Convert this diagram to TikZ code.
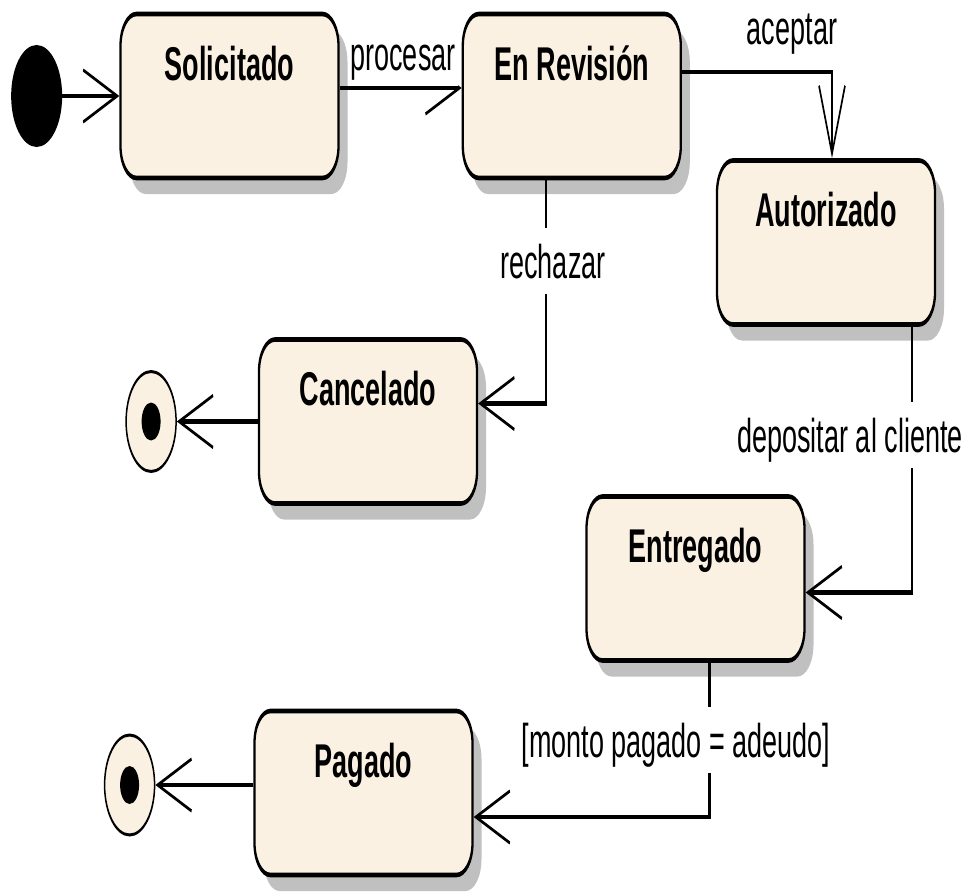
\documentclass[tikz,border=0pt]{standalone}
\usepackage{fontspec}
\setmainfont{Liberation Sans}[FakeStretch=1.14]
\usetikzlibrary{positioning, arrows.meta, shadows}
\definecolor{statefill}{RGB}{251,241,226}
\definecolor{shadowgray}{RGB}{192,192,192}

\begin{document}
\begin{tikzpicture}[x=1pt, y=-0.5pt,
    statebox/.style={draw, line width=2.3pt, fill=statefill, rounded corners=16pt,
      minimum width=218pt, text height=17pt, text depth=33pt, inner ysep=16pt,
      font=\fontsize{23.7}{28}\selectfont\bfseries,
      drop shadow={shadow xshift=9pt, shadow yshift=-8pt, fill=shadowgray, opacity=1}},
    initstate/.style={circle, fill=black, minimum size=51pt, inner sep=0pt},
    finalstate/.style={circle, draw, line width=1.5pt, fill=statefill, minimum size=50pt, inner sep=0pt,
      path picture={\fill[black] (path picture bounding box.center) circle[radius=9.5pt];}},
    transline/.style={line width=2.3pt, -{Straight Barb[length=34pt, width=26pt, line width=1.6pt]}},
    trlabel/.style={fill=white, font=\fontsize{23.7}{28}\selectfont, inner xsep=2pt, inner ysep=8pt,
      text depth=0pt, anchor=base}]
  \useasboundingbox (0pt,0pt) rectangle (971pt,-891pt);
  \begin{scope}[transform canvas={yscale=2}]
    \node[statebox] (sol) at (229.5,96) {Solicitado};
    \node[statebox, right=122pt of sol] (rev) {En Revisión};
    \node[statebox] (aut) at (826,242.5) {Autorizado};
    \node[statebox] (can) at (368,421.5) {Cancelado};
    \node[statebox] (ent) at (695.5,578.5) {Entregado};
    \node[statebox] (pag) at (363.5,793) {Pagado};
    \node[initstate, left=57pt of sol] (init) {};
    \node[finalstate, left=81pt of can] (fin1) {};
    \node[finalstate, left=98pt of pag, yshift=4pt] (fin2) {};

    \draw[transline] (init) -- (sol);
    \draw[transline] ([yshift=4pt]sol.east) -- ([yshift=4pt]rev.west);
    \draw[transline] ([yshift=12pt]rev.east) -| ([xshift=6pt]aut.north);
    \draw[transline] ([xshift=-26pt]rev.south) |- ([yshift=9pt]can.east);
    \draw[transline] (can) -- (fin1);
    \draw[transline] ([xshift=86pt]aut.south) |- ([yshift=-7pt]ent.east);
    \draw[transline] ([xshift=14pt]ent.south) |- ([yshift=-12pt]pag.east);
    \draw[transline] ([yshift=4pt]pag.west) -- (fin2);

    \node[trlabel] (lprocesar) at (403,70) {procesar};
    \node[trlabel] (laceptar) at (792,45) {aceptar};
    \node[trlabel] (lrechazar) at (553,278) {rechazar};
    \node[trlabel] (ldepositar) at (850,452) {depositar al cliente};
    \node[trlabel] (lmonto) at (676,757) {[monto pagado = adeudo]};
  \end{scope}
\end{tikzpicture}
\end{document}
